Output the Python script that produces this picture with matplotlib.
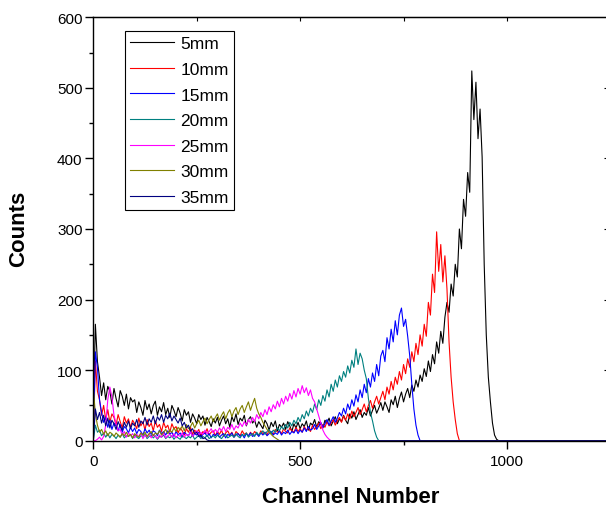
import numpy as np
import matplotlib
matplotlib.use("Agg")
import matplotlib.pyplot as plt
from matplotlib.ticker import MultipleLocator

plt.rcParams["font.family"] = ["Liberation Sans", "DejaVu Sans"]

STEP = 5          # channel spacing of the listed counts
XMAX = 1245

LABELS = ["5mm", "10mm", "15mm", "20mm", "25mm", "30mm", "35mm"]
COLORS = ["#000000", "#FF0000", "#0000FF", "#008080",
          "#FF00FF", "#808000", "#000080"]

# counts every 5 channels, starting at channel 0
c5mm = [
    40, 165, 112, 90, 64, 82, 58, 77, 70, 52, 74, 60, 48, 71, 63, 50, 66, 45, 61, 55,
    58, 40, 55, 47, 36, 57, 44, 52, 38, 50, 56, 36, 48, 41, 54, 37, 46, 33, 50, 43,
    34, 47, 39, 28, 44, 36, 41, 26, 38, 32, 24, 37, 30, 35, 22, 33, 27, 20, 31, 25,
    33, 21, 29, 35, 24, 31, 19, 34, 27, 38, 23, 32, 28, 36, 21, 30, 34, 25, 29, 19,
    27, 22, 17, 29, 24, 15, 26, 20, 28, 14, 23, 19, 25, 16, 27, 21, 13, 24, 18, 26,
    17, 24, 20, 28, 15, 25, 22, 30, 19, 27, 23, 18, 29, 25, 32, 21, 28, 34, 24, 31,
    27, 36, 29, 24, 38, 32, 41, 30, 37, 44, 33, 40, 36, 47, 35, 43, 50, 39, 46, 54,
    43, 55, 48, 40, 58, 51, 63, 47, 60, 69, 55, 66, 74, 61, 79, 70, 86, 76, 93, 84,
    102, 91, 113, 98, 122, 109, 140, 124, 155, 138, 175, 196, 182, 222, 205, 250, 232, 300, 272, 342,
    318, 380, 352, 524, 455, 508, 428, 470, 402, 250, 150, 90, 55, 25, 8, 2, 0,
]
c10mm = [
    0, 113, 70, 58, 36, 50, 30, 44, 26, 38, 33, 22, 37, 27, 18, 34, 25, 31, 19, 29,
    24, 17, 32, 21, 27, 15, 30, 20, 25, 14, 28, 19, 23, 13, 26, 18, 22, 12, 24, 17,
    20, 11, 18, 14, 8, 17, 12, 19, 9, 15, 11, 16, 7, 13, 10, 17, 8, 12, 14, 7,
    13, 9, 15, 6, 11, 14, 8, 12, 5, 13, 10, 7, 14, 9, 11, 6, 12, 8, 13, 10,
    7, 14, 10, 12, 8, 15, 11, 9, 16, 12, 14, 10, 17, 13, 11, 18, 14, 12, 19, 13,
    17, 12, 20, 15, 18, 13, 22, 16, 20, 25, 17, 23, 19, 27, 21, 25, 30, 22, 28, 33,
    26, 35, 29, 38, 31, 42, 34, 40, 47, 37, 44, 52, 41, 50, 57, 46, 55, 63, 52, 61,
    70, 58, 76, 66, 84, 72, 90, 80, 98, 86, 108, 95, 116, 104, 126, 112, 138, 122, 150, 134,
    165, 148, 196, 178, 236, 210, 296, 240, 278, 225, 262, 215, 140, 90, 55, 30, 10, 0,
]
c15mm = [
    0, 126, 104, 58, 40, 26, 33, 19, 29, 16, 25, 21, 14, 23, 12, 20, 17, 11, 19, 13,
    18, 10, 16, 13, 8, 17, 11, 15, 9, 14, 12, 7, 15, 10, 13, 8, 14, 9, 12, 6,
    13, 8, 11, 5, 12, 9, 7, 13, 6, 10, 8, 12, 5, 9, 11, 6, 10, 4, 9, 7,
    11, 5, 8, 10, 4, 9, 7, 11, 5, 8, 10, 6, 9, 4, 10, 7, 11, 6, 8, 10,
    6, 11, 8, 12, 7, 10, 13, 8, 11, 9, 14, 8, 12, 10, 15, 9, 13, 11, 16, 10,
    15, 12, 18, 13, 20, 15, 17, 23, 16, 21, 26, 19, 24, 30, 22, 28, 34, 26, 32, 40,
    35, 46, 38, 52, 44, 58, 49, 65, 55, 72, 61, 80, 68, 88, 76, 96, 84, 108, 92, 120,
    128, 112, 146, 130, 158, 140, 170, 150, 178, 188, 162, 172, 148, 120, 80, 45, 22, 8, 0,
]
c20mm = [
    0, 22, 12, 15, 7, 11, 5, 10, 4, 9, 7, 3, 8, 5, 10, 4, 7, 6, 9, 3,
    8, 5, 3, 7, 6, 9, 3, 6, 8, 4, 7, 2, 6, 5, 8, 3, 6, 4, 7, 2,
    6, 4, 2, 7, 5, 3, 6, 4, 8, 2, 5, 7, 3, 6, 4, 8, 3, 5, 7, 4,
    8, 5, 3, 7, 9, 4, 6, 8, 5, 10, 6, 4, 9, 7, 11, 5, 8, 10, 6, 12,
    8, 11, 14, 9, 13, 16, 10, 15, 12, 18, 14, 20, 16, 23, 18, 26, 21, 29, 24, 33,
    27, 37, 31, 42, 35, 46, 40, 52, 44, 58, 50, 64, 56, 72, 62, 80, 70, 86, 76, 92,
    84, 98, 90, 106, 96, 114, 104, 130, 108, 124, 116, 100, 88, 60, 40, 28, 14, 5, 0,
]
c25mm = [
    0, 0, 2, 5, 1, 6, 22, 58, 76, 62, 36, 24, 14, 16, 8, 13, 5, 11, 7, 10,
    4, 9, 6, 11, 3, 8, 5, 10, 4, 9, 6, 3, 8, 5, 11, 4, 7, 9, 5, 10,
    4, 8, 6, 11, 5, 9, 7, 12, 6, 10, 14, 8, 12, 9, 15, 10, 13, 17, 11, 16,
    12, 18, 14, 20, 13, 19, 16, 23, 15, 21, 18, 25, 20, 27, 22, 30, 25, 33, 27, 37,
    31, 40, 34, 44, 37, 48, 41, 51, 45, 56, 48, 60, 52, 63, 56, 67, 59, 71, 62, 74,
    66, 78, 68, 75, 64, 72, 60, 55, 45, 35, 25, 15, 9, 5, 2, 0,
]
c30mm = [
    75, 38, 22, 12, 16, 9, 14, 7, 12, 10, 6, 11, 8, 5, 10, 7, 12, 6, 9, 4,
    10, 7, 5, 11, 8, 12, 6, 10, 13, 7, 11, 9, 14, 8, 12, 16, 10, 15, 12, 18,
    13, 19, 15, 21, 14, 23, 17, 20, 26, 18, 24, 29, 21, 27, 32, 24, 30, 35, 27, 33,
    38, 29, 36, 41, 31, 39, 44, 34, 42, 47, 37, 45, 50, 40, 48, 55, 43, 52, 60, 46,
    38, 33, 26, 21, 16, 12, 9, 6, 4, 2, 0,
]
c35mm = [
    0, 45, 30, 40, 25, 36, 21, 32, 18, 29, 24, 16, 27, 20, 15, 26, 19, 28, 17, 25,
    21, 30, 19, 28, 24, 33, 22, 31, 26, 35, 24, 34, 29, 37, 26, 36, 31, 39, 28, 35,
    30, 25, 32, 21, 26, 18, 22, 14, 17, 10, 12, 6, 8, 3, 4, 1, 0,
]
SERIES = [c5mm, c10mm, c15mm, c20mm, c25mm, c30mm, c35mm]


def spectrum(counts):
    """Channel axis for a list of counts, flat at zero out to the axis end."""
    x = np.arange(len(counts)) * STEP
    return np.append(x, XMAX), np.append(np.asarray(counts, float), 0.0)


fig = plt.figure(figsize=(6.06, 5.10), dpi=100)
ax = fig.add_axes([93.3 / 606, 1 - 441.7 / 510, (608.3 - 93.3) / 606, (441.7 - 18.3) / 510])

for counts, lab, col in zip(SERIES, LABELS, COLORS):
    x, y = spectrum(counts)
    ax.plot(x, y, color=col, lw=0.8, label=lab)

ax.set_xlim(0, XMAX)
ax.set_ylim(0, 600)
ax.xaxis.set_major_locator(MultipleLocator(500))
ax.xaxis.set_minor_locator(MultipleLocator(250))
ax.yaxis.set_major_locator(MultipleLocator(100))
ax.yaxis.set_minor_locator(MultipleLocator(50))

for s in ax.spines.values():
    s.set_linewidth(1.0)
ax.tick_params(which="both", direction="out", labelsize=11, width=1.0)
ax.tick_params(which="major", length=5.8)
ax.tick_params(which="minor", length=3)
ax.tick_params(axis="x", pad=4)
ax.tick_params(axis="y", pad=2)

# inward ticks on the top and right frame
top = ax.secondary_xaxis("top")
top.set_xticks([250, 500, 750, 1000])
top.tick_params(direction="in", length=3, labeltop=False)
right = ax.secondary_yaxis("right")
right.set_yticks([100, 200, 300, 400, 500])
right.tick_params(direction="in", length=3, labelright=False)

ax.set_xlabel("Channel Number", fontsize=16, fontweight="bold", labelpad=13)
fig.text(18.5 / 606, 1 - 229 / 510, "Counts", fontsize=16, fontweight="bold",
         rotation=90, ha="center", va="center")

leg = ax.legend(loc="upper left", bbox_to_anchor=(125 / 606, 1 - 32 / 510),
                bbox_transform=fig.transFigure, borderaxespad=0, fontsize=12.5,
                handlelength=2.5, handletextpad=0.4, labelspacing=0.6,
                borderpad=0.3, fancybox=False, framealpha=1)
leg.get_frame().set_edgecolor("black")
leg.get_frame().set_linewidth(0.8)

fig.savefig("out.png", dpi=100)
